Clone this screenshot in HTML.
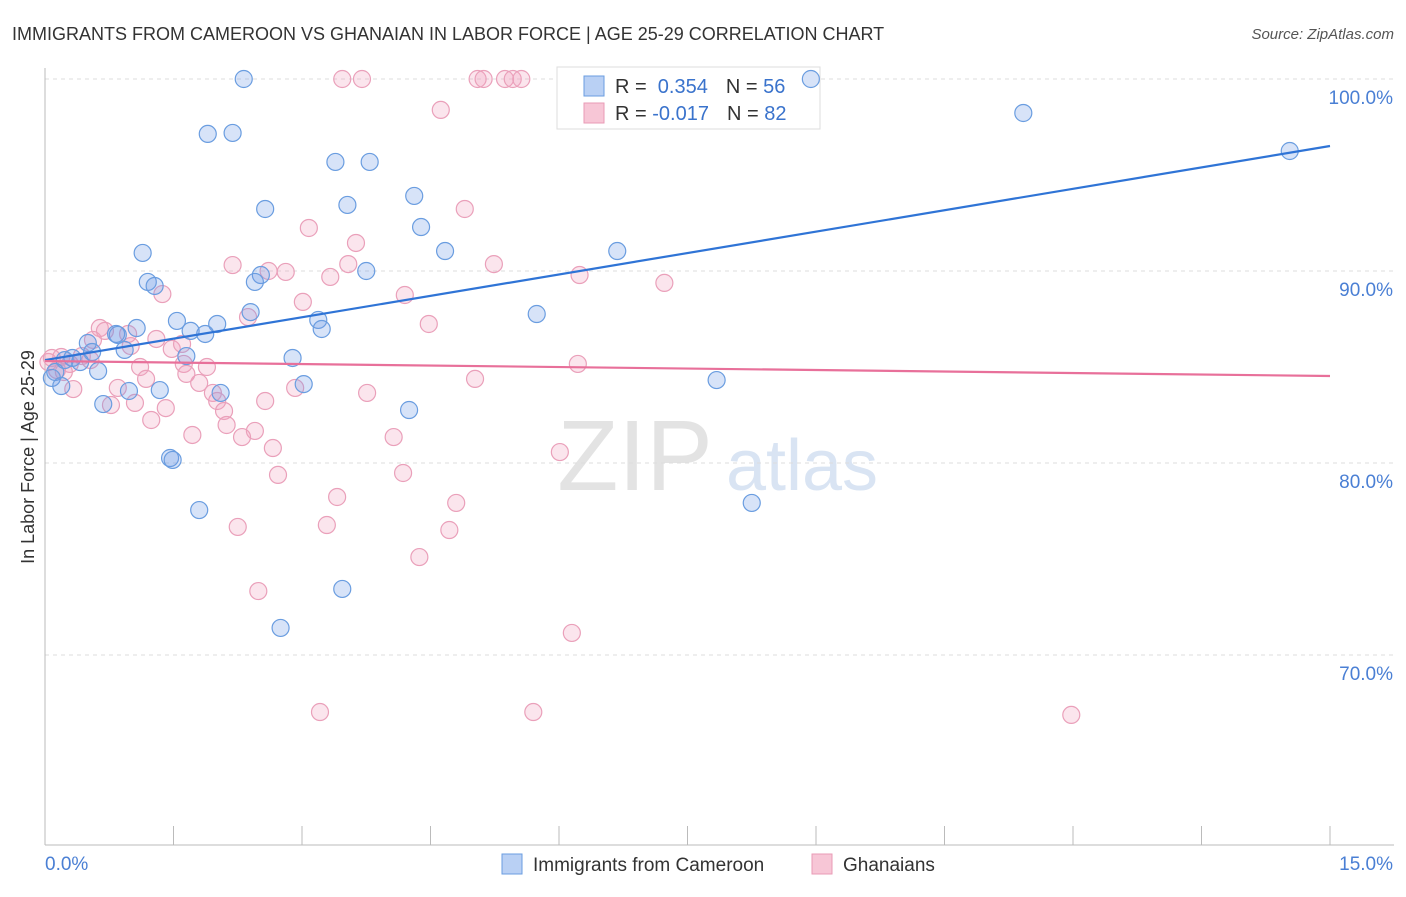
<!DOCTYPE html>
<html><head><meta charset="utf-8"><style>
body{margin:0;background:#fff;font-family:"Liberation Sans",sans-serif;}
svg text{font-family:"Liberation Sans",sans-serif;}
</style></head><body>
<svg width="1406" height="892" viewBox="0 0 1406 892" id="chart">
<text x="12" y="40" font-size="18" fill="#333">IMMIGRANTS FROM CAMEROON VS GHANAIAN IN LABOR FORCE | AGE 25-29 CORRELATION CHART</text>
<text x="1394" y="39" font-size="15" fill="#555" font-style="italic" text-anchor="end">Source: ZipAtlas.com</text>
<text x="34" y="457" font-size="18" fill="#333" text-anchor="middle" transform="rotate(-90 34 457)">In Labor Force | Age 25-29</text>
<g opacity="0.5">
<text x="635" y="490" font-size="100" fill="#c8c8c8" font-family="Liberation Serif" text-anchor="middle">ZIP</text>
<text x="802" y="490" font-size="72" fill="#b5cbe8" text-anchor="middle">atlas</text>
</g>
<g id="grid"></g><g id="axes"></g>
<g>
<rect x="557" y="67" width="263" height="62" fill="#fff" stroke="#ddd"/>
<rect x="584" y="76" width="20" height="20" fill="#b9d0f4" stroke="#6a9de0"/>
<text x="615" y="93" font-size="20" fill="#333">R = <tspan fill="#3a73cc">&#160;0.354</tspan><tspan dx="18">N = </tspan><tspan fill="#3a73cc">56</tspan></text>
<rect x="584" y="103" width="20" height="20" fill="#f7c6d6" stroke="#e99bb6"/>
<text x="615" y="120" font-size="20" fill="#333">R = <tspan fill="#3a73cc">-0.017</tspan><tspan dx="18">N = </tspan><tspan fill="#3a73cc">82</tspan></text>
</g>
<g id="pts"></g><g id="lines"></g>
<g>
<rect x="502" y="854" width="20" height="20" fill="#b9d0f4" stroke="#6a9de0"/>
<text x="533" y="871" font-size="19" fill="#333">Immigrants from Cameroon</text>
<rect x="812" y="854" width="20" height="20" fill="#f7c6d6" stroke="#e99bb6"/>
<text x="843" y="871" font-size="19" fill="#333">Ghanaians</text>
</g>
</svg>
<script>
const xTicksLabels=["0.0%","15.0%"];
const yTicks=[100,90,80,70];
const yTickLabels=["100.0%","90.0%","80.0%","70.0%"];
const blueX=[2.32,8.94,11.42,14.53,1.90,2.19,3.39,3.79,2.57,3.53,4.31,4.39,4.67,6.68,1.14,1.20,1.28,2.52,2.45,3.75,2.40,1.54,2.01,3.19,3.23,1.70,1.87,1.07,0.83,0.50,0.85,0.93,0.55,5.74,2.89,1.65,0.32,0.41,0.23,0.62,0.12,0.08,0.19,7.84,3.02,2.05,1.34,0.98,0.68,4.25,1.46,1.49,1.80,8.25,3.47,2.75];
const blueY=[100,100,98.23,96.25,97.14,97.19,95.68,95.68,93.23,93.44,93.91,92.29,91.04,91.04,90.94,89.43,89.22,89.79,89.43,90.00,87.86,87.40,87.24,87.45,86.98,86.88,86.72,87.03,86.72,86.25,86.67,85.89,85.78,87.76,85.47,85.57,85.47,85.26,85.36,84.79,84.74,84.43,84.01,84.32,84.11,83.65,83.80,83.75,83.07,82.76,80.26,80.16,77.55,77.92,73.44,71.41];
const pinkX=[3.47,3.70,5.05,5.12,5.37,5.46,5.56,4.62,4.90,3.08,3.63,2.19,2.81,2.61,3.33,3.54,5.24,6.24,7.23,4.20,3.01,1.37,4.48,2.37,0.64,0.70,0.97,1.30,0.56,1.00,1.48,1.60,0.19,0.08,0.29,0.43,0.14,1.11,1.62,1.89,1.18,1.80,1.65,5.02,6.22,0.85,0.33,2.92,3.76,1.96,2.01,1.05,0.77,1.41,2.09,2.57,1.24,2.12,2.45,1.72,2.30,4.07,2.66,6.01,2.72,4.18,3.41,4.80,3.29,2.25,4.72,4.37,2.49,6.15,3.21,5.70,11.98,0.04,0.22,0.53];
const pinkY=[100,100,100,100,100,100,100,98.39,93.23,92.24,91.46,90.31,89.95,90.00,89.69,90.36,90.36,89.79,89.38,88.75,88.39,88.80,87.24,87.60,87.03,86.88,86.72,86.46,86.41,86.09,85.94,86.20,85.52,85.47,85.16,85.57,84.84,85.00,85.16,85.00,84.38,84.17,84.64,84.38,85.16,83.91,83.85,83.91,83.65,83.65,83.23,83.13,83.02,82.86,82.71,83.23,82.24,81.98,81.67,81.46,81.35,81.35,80.78,80.57,79.38,79.48,78.23,77.92,76.77,76.67,76.51,75.10,73.33,71.15,67.03,67.03,66.88,85.26,84.74,85.36];
const blueTrend=[85.36,96.51];
const pinkTrend=[85.31,84.53];
const X0=45,X1=1330,Y100=79,PXPER=19.2;
const xs=v=>X0+(v/15)*(X1-X0);
const ys=v=>Y100+(100-v)*PXPER;
const NS="http://www.w3.org/2000/svg";
function mk(tag,attrs,parent){const e=document.createElementNS(NS,tag);for(const k in attrs)e.setAttribute(k,attrs[k]);document.getElementById(parent).appendChild(e);return e;}
yTicks.forEach((t,i)=>{
 const g=mk('line',{x1:X0,x2:1394,y1:ys(t),y2:ys(t),stroke:'#ddd','stroke-dasharray':'4 4'},'grid');
 
 
 const l=mk('text',{x:1393,y:ys(t)+25,'font-size':19,fill:'#4a7fd4','text-anchor':'end'},'axes');
 l.textContent=yTickLabels[i];
 
 
});
const ax=mk('line',{x1:X0,x2:1394,y1:845,y2:845,stroke:'#bbb'},'axes');


const ay=mk('line',{x1:X0,x2:X0,y1:68,y2:845,stroke:'#bbb'},'axes');


for(let i=0;i<=10;i++){const t=mk('line',{x1:xs(i*1.5),x2:xs(i*1.5),y1:826,y2:845,stroke:'#bbb'},'axes');
 
 }
const xl0=mk('text',{x:45,y:870,'font-size':19,fill:'#4a7fd4'},'axes');xl0.textContent=xTicksLabels[0];


const xl1=mk('text',{x:1393,y:870,'font-size':19,fill:'#4a7fd4','text-anchor':'end'},'axes');xl1.textContent=xTicksLabels[1];


pinkX.forEach((v,i)=>{const c=mk('circle',{cx:xs(v),cy:ys(pinkY[i]),r:8.5,fill:'rgba(242,160,190,0.28)',stroke:'#eaa0ba','stroke-width':1.2},'pts');
 
 });
blueX.forEach((v,i)=>{const c=mk('circle',{cx:xs(v),cy:ys(blueY[i]),r:8.5,fill:'rgba(110,155,230,0.28)',stroke:'#6a9de0','stroke-width':1.2},'pts');
 
 });
const bl=mk('line',{x1:xs(0),y1:ys(blueTrend[0]),x2:xs(15),y2:ys(blueTrend[1]),stroke:'#2f74d6','stroke-width':2.2},'lines');


const pl=mk('line',{x1:xs(0),y1:ys(pinkTrend[0]),x2:xs(15),y2:ys(pinkTrend[1]),stroke:'#e8709a','stroke-width':2.2},'lines');


</script>
</body></html>
